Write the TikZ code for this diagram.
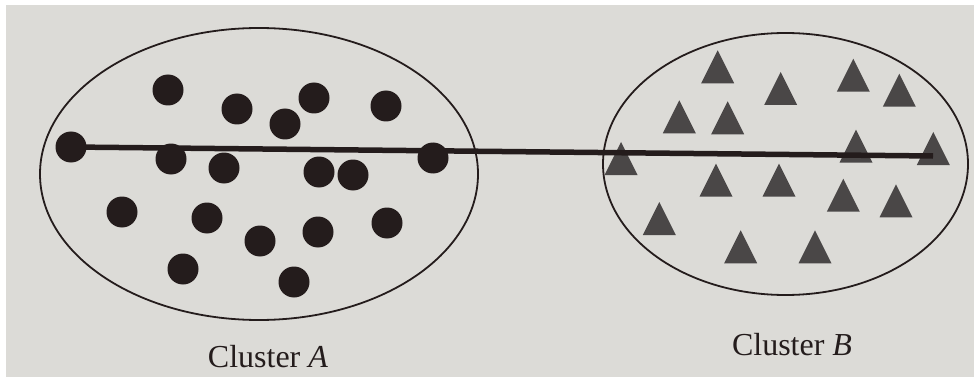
\documentclass[tikz,border=0pt]{standalone}
\usepackage{fontspec}
\setmainfont{Liberation Serif}
\definecolor{paper}{HTML}{DCDBD7}
\definecolor{ink}{HTML}{241C1C}
\definecolor{trigray}{HTML}{4A4747}
\tikzset{
  dotA/.style={circle, fill=ink, minimum size=31pt, inner sep=0pt},
  tri/.style={fill=trigray},
  bound/.style={draw=ink, line width=1.8pt},
  chain/.style={draw=ink, line width=5.5pt},
  lab/.style={anchor=base, inner sep=0pt, text=ink, font=\fontsize{32}{38}\selectfont}
}
\begin{document}
\begin{tikzpicture}[x=1pt, y=-1pt]
\useasboundingbox (0,0) rectangle (974,377);
\fill[white] (0,0) rectangle (974,377);
\fill[paper] (6,5) rectangle (974,377);
% cluster boundaries
\draw[bound] (259,174) ellipse [x radius=219pt, y radius=146pt];
\draw[bound] (785.5,164) ellipse [x radius=182.5pt, y radius=131pt];
% cluster A dots
\node[dotA] (a1) at (71,147) {};
\node[dotA] (a2) at (168,90) {};
\node[dotA] (a3) at (237,109) {};
\node[dotA] (a4) at (314,98) {};
\node[dotA] (a5) at (285,124) {};
\node[dotA] (a6) at (386,106) {};
\node[dotA] (a7) at (171,159) {};
\node[dotA] (a8) at (224,168) {};
\node[dotA] (a9) at (319,172) {};
\node[dotA] (a10) at (353,175) {};
\node[dotA] (a11) at (433,158) {};
\node[dotA] (a12) at (122,212) {};
\node[dotA] (a13) at (207,218) {};
\node[dotA] (a14) at (260,241) {};
\node[dotA] (a15) at (318,232) {};
\node[dotA] (a16) at (387,223) {};
\node[dotA] (a17) at (183,269) {};
\node[dotA] (a18) at (294,282) {};
% cluster B triangles (base centre, apex up)
\foreach \n/\x/\y in {b1/717.7/83.3, b2/780.7/105, b3/853.3/91.7, b4/899.3/106.7,
  b5/679.3/133.3, b6/727.7/134.3, b7/856/162.7, b8/933.3/165, b9/621/175,
  b10/716/196.7, b11/779/196.7, b12/843.3/211.7, b13/896/217.3, b14/659.3/235,
  b15/740.7/263.3, b16/815/263.3}{
  \coordinate (\n) at (\x,\y);
  \fill[tri] (\n) ++(-16.5,0) -- ++(33,0) -- ++(-16.5,-33) -- cycle;
}
\coordinate (b8end) at (933,156);
% connecting line
\draw[chain] (a1.center) -- (b8end);
% labels
\node[lab] (la) at (268,367) {Cluster \textit{A}};
\node[lab] (lb) at (792,355) {Cluster \textit{B}};
\end{tikzpicture}
\end{document}
